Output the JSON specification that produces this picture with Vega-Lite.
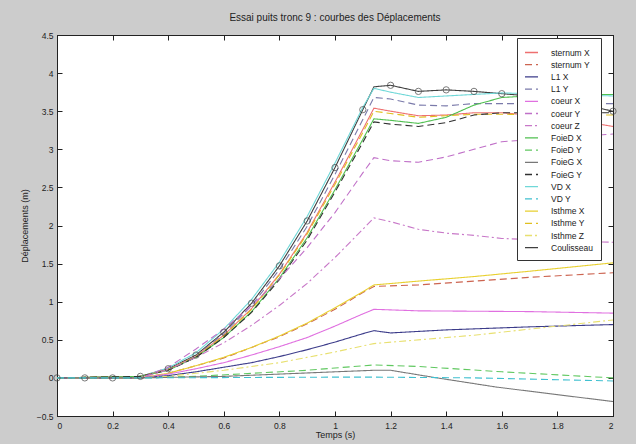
{
"$schema": "https://vega.github.io/schema/vega-lite/v6.json",
"width": 556, "height": 381,
"autosize": "none",
"padding": {"left": 57, "top": 35, "right": 23, "bottom": 28},
"background": "#cccccc",
"title": {"text": "Essai puits tronc 9 : courbes des Déplacements", "fontSize": 10, "fontWeight": "normal", "font": "Liberation Sans", "color": "#222", "offset": 8},
"config": {
  "view": {"fill": "white", "stroke": "black", "strokeWidth": 1},
  "axis": {"grid": false, "tickSize": -5, "tickColor": "#222", "domainColor": "#222", "labelFont": "Liberation Sans", "labelFontSize": 8.5, "labelColor": "#222", "titleFont": "Liberation Sans", "titleFontSize": 9, "titleFontWeight": "normal", "titleColor": "#222"},
  "legend": {"labelFont": "Liberation Sans", "labelFontSize": 8.5, "labelColor": "#222"}
},
"data": {"values": [
{"s":"Coulisseau","t":0,"v":0},{"s":"Coulisseau","t":0.1,"v":0},{"s":"Coulisseau","t":0.2,"v":0},{"s":"Coulisseau","t":0.3,"v":0.02},{"s":"Coulisseau","t":0.4,"v":0.12},{"s":"Coulisseau","t":0.5,"v":0.3},{"s":"Coulisseau","t":0.6,"v":0.6},{"s":"Coulisseau","t":0.7,"v":0.98},{"s":"Coulisseau","t":0.8,"v":1.47},{"s":"Coulisseau","t":0.9,"v":2.06},{"s":"Coulisseau","t":1.0,"v":2.76},{"s":"Coulisseau","t":1.1,"v":3.52},{"s":"Coulisseau","t":1.14,"v":3.82},{"s":"Coulisseau","t":1.2,"v":3.84},{"s":"Coulisseau","t":1.3,"v":3.76},{"s":"Coulisseau","t":1.4,"v":3.78},{"s":"Coulisseau","t":1.5,"v":3.76},{"s":"Coulisseau","t":1.6,"v":3.73},{"s":"Coulisseau","t":1.7,"v":3.7},{"s":"Coulisseau","t":1.8,"v":3.65},{"s":"Coulisseau","t":1.9,"v":3.58},{"s":"Coulisseau","t":2.0,"v":3.5},

{"s":"VD X","t":0,"v":0},{"s":"VD X","t":0.3,"v":0.02},{"s":"VD X","t":0.4,"v":0.13},{"s":"VD X","t":0.5,"v":0.33},{"s":"VD X","t":0.6,"v":0.64},{"s":"VD X","t":0.7,"v":1.03},{"s":"VD X","t":0.8,"v":1.52},{"s":"VD X","t":0.9,"v":2.12},{"s":"VD X","t":1.0,"v":2.82},{"s":"VD X","t":1.1,"v":3.55},{"s":"VD X","t":1.14,"v":3.8},{"s":"VD X","t":1.2,"v":3.75},{"s":"VD X","t":1.3,"v":3.68},{"s":"VD X","t":1.4,"v":3.7},{"s":"VD X","t":1.5,"v":3.72},{"s":"VD X","t":1.6,"v":3.74},{"s":"VD X","t":1.8,"v":3.72},{"s":"VD X","t":2.0,"v":3.7},

{"s":"L1 Y","t":0,"v":0},{"s":"L1 Y","t":0.3,"v":0.02},{"s":"L1 Y","t":0.4,"v":0.11},{"s":"L1 Y","t":0.5,"v":0.29},{"s":"L1 Y","t":0.6,"v":0.58},{"s":"L1 Y","t":0.7,"v":0.95},{"s":"L1 Y","t":0.8,"v":1.42},{"s":"L1 Y","t":0.9,"v":1.99},{"s":"L1 Y","t":1.0,"v":2.67},{"s":"L1 Y","t":1.1,"v":3.39},{"s":"L1 Y","t":1.14,"v":3.68},{"s":"L1 Y","t":1.2,"v":3.66},{"s":"L1 Y","t":1.3,"v":3.58},{"s":"L1 Y","t":1.4,"v":3.57},{"s":"L1 Y","t":1.5,"v":3.6},{"s":"L1 Y","t":1.6,"v":3.6},{"s":"L1 Y","t":1.8,"v":3.6},{"s":"L1 Y","t":2.0,"v":3.6},

{"s":"sternum X","t":0,"v":0},{"s":"sternum X","t":0.3,"v":0.02},{"s":"sternum X","t":0.4,"v":0.11},{"s":"sternum X","t":0.5,"v":0.28},{"s":"sternum X","t":0.6,"v":0.56},{"s":"sternum X","t":0.7,"v":0.91},{"s":"sternum X","t":0.8,"v":1.36},{"s":"sternum X","t":0.9,"v":1.91},{"s":"sternum X","t":1.0,"v":2.57},{"s":"sternum X","t":1.1,"v":3.26},{"s":"sternum X","t":1.14,"v":3.54},{"s":"sternum X","t":1.2,"v":3.5},{"s":"sternum X","t":1.3,"v":3.44},{"s":"sternum X","t":1.4,"v":3.45},{"s":"sternum X","t":1.5,"v":3.48},{"s":"sternum X","t":1.6,"v":3.48},{"s":"sternum X","t":1.8,"v":3.42},{"s":"sternum X","t":2.0,"v":3.3},

{"s":"Isthme Y","t":0,"v":0},{"s":"Isthme Y","t":0.3,"v":0.02},{"s":"Isthme Y","t":0.4,"v":0.11},{"s":"Isthme Y","t":0.5,"v":0.28},{"s":"Isthme Y","t":0.6,"v":0.55},{"s":"Isthme Y","t":0.7,"v":0.9},{"s":"Isthme Y","t":0.8,"v":1.35},{"s":"Isthme Y","t":0.9,"v":1.89},{"s":"Isthme Y","t":1.0,"v":2.54},{"s":"Isthme Y","t":1.1,"v":3.22},{"s":"Isthme Y","t":1.14,"v":3.5},{"s":"Isthme Y","t":1.2,"v":3.47},{"s":"Isthme Y","t":1.3,"v":3.42},{"s":"Isthme Y","t":1.4,"v":3.44},{"s":"Isthme Y","t":1.5,"v":3.46},{"s":"Isthme Y","t":1.6,"v":3.46},{"s":"Isthme Y","t":1.8,"v":3.45},{"s":"Isthme Y","t":2.0,"v":3.45},

{"s":"FoieD X","t":0,"v":0},{"s":"FoieD X","t":0.3,"v":0.02},{"s":"FoieD X","t":0.4,"v":0.1},{"s":"FoieD X","t":0.5,"v":0.27},{"s":"FoieD X","t":0.6,"v":0.53},{"s":"FoieD X","t":0.7,"v":0.87},{"s":"FoieD X","t":0.8,"v":1.31},{"s":"FoieD X","t":0.9,"v":1.84},{"s":"FoieD X","t":1.0,"v":2.47},{"s":"FoieD X","t":1.1,"v":3.13},{"s":"FoieD X","t":1.14,"v":3.4},{"s":"FoieD X","t":1.2,"v":3.38},{"s":"FoieD X","t":1.3,"v":3.34},{"s":"FoieD X","t":1.4,"v":3.42},{"s":"FoieD X","t":1.5,"v":3.58},{"s":"FoieD X","t":1.6,"v":3.68},{"s":"FoieD X","t":1.8,"v":3.72},{"s":"FoieD X","t":2.0,"v":3.72},

{"s":"FoieG Y","t":0,"v":0},{"s":"FoieG Y","t":0.3,"v":0.02},{"s":"FoieG Y","t":0.4,"v":0.1},{"s":"FoieG Y","t":0.5,"v":0.27},{"s":"FoieG Y","t":0.6,"v":0.53},{"s":"FoieG Y","t":0.7,"v":0.86},{"s":"FoieG Y","t":0.8,"v":1.29},{"s":"FoieG Y","t":0.9,"v":1.81},{"s":"FoieG Y","t":1.0,"v":2.44},{"s":"FoieG Y","t":1.1,"v":3.09},{"s":"FoieG Y","t":1.14,"v":3.36},{"s":"FoieG Y","t":1.2,"v":3.33},{"s":"FoieG Y","t":1.3,"v":3.3},{"s":"FoieG Y","t":1.4,"v":3.35},{"s":"FoieG Y","t":1.5,"v":3.45},{"s":"FoieG Y","t":1.6,"v":3.48},{"s":"FoieG Y","t":1.8,"v":3.48},{"s":"FoieG Y","t":2.0,"v":3.48},

{"s":"coeur Y","t":0,"v":0},{"s":"coeur Y","t":0.3,"v":0},{"s":"coeur Y","t":0.4,"v":0.14},{"s":"coeur Y","t":0.5,"v":0.38},{"s":"coeur Y","t":0.6,"v":0.64},{"s":"coeur Y","t":0.7,"v":0.95},{"s":"coeur Y","t":0.8,"v":1.3},{"s":"coeur Y","t":0.9,"v":1.71},{"s":"coeur Y","t":1.0,"v":2.17},{"s":"coeur Y","t":1.1,"v":2.69},{"s":"coeur Y","t":1.14,"v":2.89},{"s":"coeur Y","t":1.2,"v":2.85},{"s":"coeur Y","t":1.3,"v":2.83},{"s":"coeur Y","t":1.4,"v":2.9},{"s":"coeur Y","t":1.5,"v":3.0},{"s":"coeur Y","t":1.6,"v":3.1},{"s":"coeur Y","t":1.8,"v":3.15},{"s":"coeur Y","t":2.0,"v":3.2},

{"s":"coeur Z","t":0,"v":0},{"s":"coeur Z","t":0.3,"v":0},{"s":"coeur Z","t":0.4,"v":0.11},{"s":"coeur Z","t":0.5,"v":0.27},{"s":"coeur Z","t":0.6,"v":0.46},{"s":"coeur Z","t":0.7,"v":0.69},{"s":"coeur Z","t":0.8,"v":0.95},{"s":"coeur Z","t":0.9,"v":1.24},{"s":"coeur Z","t":1.0,"v":1.58},{"s":"coeur Z","t":1.1,"v":1.95},{"s":"coeur Z","t":1.14,"v":2.1},{"s":"coeur Z","t":1.2,"v":2.05},{"s":"coeur Z","t":1.3,"v":1.95},{"s":"coeur Z","t":1.4,"v":1.9},{"s":"coeur Z","t":1.5,"v":1.87},{"s":"coeur Z","t":1.6,"v":1.83},{"s":"coeur Z","t":1.8,"v":1.8},{"s":"coeur Z","t":2.0,"v":1.78},

{"s":"sternum Y","t":0,"v":0},{"s":"sternum Y","t":0.3,"v":0},{"s":"sternum Y","t":0.4,"v":0.06},{"s":"sternum Y","t":0.5,"v":0.16},{"s":"sternum Y","t":0.6,"v":0.26},{"s":"sternum Y","t":0.7,"v":0.4},{"s":"sternum Y","t":0.8,"v":0.54},{"s":"sternum Y","t":0.9,"v":0.71},{"s":"sternum Y","t":1.0,"v":0.9},{"s":"sternum Y","t":1.1,"v":1.12},{"s":"sternum Y","t":1.14,"v":1.2},{"s":"sternum Y","t":1.3,"v":1.22},{"s":"sternum Y","t":1.5,"v":1.27},{"s":"sternum Y","t":1.7,"v":1.32},{"s":"sternum Y","t":2.0,"v":1.38},

{"s":"Isthme X","t":0,"v":0},{"s":"Isthme X","t":0.3,"v":0},{"s":"Isthme X","t":0.4,"v":0.06},{"s":"Isthme X","t":0.5,"v":0.16},{"s":"Isthme X","t":0.6,"v":0.27},{"s":"Isthme X","t":0.7,"v":0.4},{"s":"Isthme X","t":0.8,"v":0.55},{"s":"Isthme X","t":0.9,"v":0.72},{"s":"Isthme X","t":1.0,"v":0.92},{"s":"Isthme X","t":1.1,"v":1.13},{"s":"Isthme X","t":1.14,"v":1.22},{"s":"Isthme X","t":1.3,"v":1.27},{"s":"Isthme X","t":1.5,"v":1.33},{"s":"Isthme X","t":1.7,"v":1.4},{"s":"Isthme X","t":2.0,"v":1.51},

{"s":"coeur X","t":0,"v":0},{"s":"coeur X","t":0.3,"v":0},{"s":"coeur X","t":0.4,"v":0.05},{"s":"coeur X","t":0.5,"v":0.12},{"s":"coeur X","t":0.6,"v":0.2},{"s":"coeur X","t":0.7,"v":0.3},{"s":"coeur X","t":0.8,"v":0.41},{"s":"coeur X","t":0.9,"v":0.53},{"s":"coeur X","t":1.0,"v":0.68},{"s":"coeur X","t":1.1,"v":0.84},{"s":"coeur X","t":1.14,"v":0.9},{"s":"coeur X","t":1.3,"v":0.88},{"s":"coeur X","t":1.7,"v":0.87},{"s":"coeur X","t":2.0,"v":0.85},

{"s":"L1 X","t":0,"v":0},{"s":"L1 X","t":0.3,"v":0},{"s":"L1 X","t":0.4,"v":0.03},{"s":"L1 X","t":0.5,"v":0.08},{"s":"L1 X","t":0.6,"v":0.14},{"s":"L1 X","t":0.7,"v":0.2},{"s":"L1 X","t":0.8,"v":0.28},{"s":"L1 X","t":0.9,"v":0.37},{"s":"L1 X","t":1.0,"v":0.47},{"s":"L1 X","t":1.1,"v":0.58},{"s":"L1 X","t":1.14,"v":0.62},{"s":"L1 X","t":1.2,"v":0.59},{"s":"L1 X","t":1.4,"v":0.63},{"s":"L1 X","t":1.7,"v":0.67},{"s":"L1 X","t":2.0,"v":0.7},

{"s":"Isthme Z","t":0,"v":0},{"s":"Isthme Z","t":0.3,"v":0},{"s":"Isthme Z","t":0.4,"v":0.02},{"s":"Isthme Z","t":0.5,"v":0.06},{"s":"Isthme Z","t":0.6,"v":0.1},{"s":"Isthme Z","t":0.7,"v":0.15},{"s":"Isthme Z","t":0.8,"v":0.2},{"s":"Isthme Z","t":0.9,"v":0.27},{"s":"Isthme Z","t":1.0,"v":0.34},{"s":"Isthme Z","t":1.1,"v":0.42},{"s":"Isthme Z","t":1.14,"v":0.45},{"s":"Isthme Z","t":1.5,"v":0.56},{"s":"Isthme Z","t":2.0,"v":0.76},

{"s":"FoieD Y","t":0,"v":0},{"s":"FoieD Y","t":0.3,"v":0},{"s":"FoieD Y","t":0.5,"v":0.02},{"s":"FoieD Y","t":0.7,"v":0.06},{"s":"FoieD Y","t":0.9,"v":0.1},{"s":"FoieD Y","t":1.0,"v":0.13},{"s":"FoieD Y","t":1.14,"v":0.17},{"s":"FoieD Y","t":1.3,"v":0.15},{"s":"FoieD Y","t":1.6,"v":0.08},{"s":"FoieD Y","t":2.0,"v":0.0},

{"s":"FoieG X","t":0,"v":0},{"s":"FoieG X","t":0.3,"v":0},{"s":"FoieG X","t":0.6,"v":0.02},{"s":"FoieG X","t":0.8,"v":0.05},{"s":"FoieG X","t":1.0,"v":0.08},{"s":"FoieG X","t":1.14,"v":0.1},{"s":"FoieG X","t":1.2,"v":0.1},{"s":"FoieG X","t":1.35,"v":0.01},{"s":"FoieG X","t":1.58,"v":-0.12},{"s":"FoieG X","t":1.8,"v":-0.22},{"s":"FoieG X","t":2.0,"v":-0.31},

{"s":"VD Y","t":0,"v":0},{"s":"VD Y","t":0.3,"v":0},{"s":"VD Y","t":1.0,"v":0.01},{"s":"VD Y","t":1.14,"v":0.01},{"s":"VD Y","t":1.5,"v":0.0},{"s":"VD Y","t":2.0,"v":-0.04}
]},
"layer": [
  {
    "mark": {"type": "line", "strokeWidth": 1.1},
    "encoding": {
      "x": {"field": "t", "type": "quantitative", "scale": {"domain": [0, 2], "nice": false}, "axis": {"title": "Temps (s)", "values": [0,0.2,0.4,0.6,0.8,1,1.2,1.4,1.6,1.8,2], "format": "~g", "labelPadding": 10, "titlePadding": 1}},
      "y": {"field": "v", "type": "quantitative", "scale": {"domain": [-0.5, 4.5], "nice": false}, "axis": {"title": "Déplacements (m)", "values": [-0.5,0,0.5,1,1.5,2,2.5,3,3.5,4,4.5], "format": "~g", "labelPadding": 9, "titlePadding": 7}},
      "color": {"field": "s", "type": "nominal", "scale": {
        "domain": ["sternum X","sternum Y","L1 X","L1 Y","coeur X","coeur Y","coeur Z","FoieD X","FoieD Y","FoieG X","FoieG Y","VD X","VD Y","Isthme X","Isthme Y","Isthme Z","Coulisseau"],
        "range": ["#ee7070","#cc6450","#3c3c8a","#7a7aaa","#e070e0","#c070c8","#c878c8","#50c050","#60c860","#787878","#303030","#70d8d8","#40c0d0","#e8d030","#e0c020","#e8e070","#404040"]},
        "legend": {"title": null, "orient": "none", "legendX": 460, "legendY": 3, "fillColor": "white", "strokeColor": "#333", "padding": 7, "symbolType": "stroke", "symbolSize": 169, "symbolStrokeWidth": 1.3, "rowPadding": 0.2, "labelOffset": 12}},
      "strokeDash": {"field": "s", "type": "nominal", "scale": {
        "domain": ["sternum X","sternum Y","L1 X","L1 Y","coeur X","coeur Y","coeur Z","FoieD X","FoieD Y","FoieG X","FoieG Y","VD X","VD Y","Isthme X","Isthme Y","Isthme Z","Coulisseau"],
        "range": [[1,0],[7,4],[1,0],[7,4],[1,0],[7,4],[7,3,2,3],[1,0],[7,4],[1,0],[7,4],[1,0],[7,4],[1,0],[7,4],[7,3,2,3],[1,0]]},
        "legend": {"title": null, "orient": "none", "legendX": 460, "legendY": 3, "fillColor": "white", "strokeColor": "#333", "padding": 7, "symbolType": "stroke", "symbolSize": 169, "symbolStrokeWidth": 1.3, "rowPadding": 0.2, "labelOffset": 12}}
    }
  },
  {
    "transform": [{"filter": "datum.s == 'Coulisseau' && datum.t != 1.14"}],
    "mark": {"type": "point", "shape": "circle", "filled": false, "size": 40, "stroke": "#444", "strokeWidth": 1},
    "encoding": {
      "x": {"field": "t", "type": "quantitative", "axis": null},
      "y": {"field": "v", "type": "quantitative", "axis": null}
    }
  },
  {
    "transform": [{"filter": "datum.s == 'Coulisseau'"}],
    "mark": {"type": "point", "opacity": 0},
    "encoding": {
      "x": {"field": "t", "type": "quantitative", "axis": {"orient": "top", "labels": false, "title": null, "values": [0,0.2,0.4,0.6,0.8,1,1.2,1.4,1.6,1.8,2]}},
      "y": {"field": "v", "type": "quantitative", "axis": {"orient": "right", "labels": false, "title": null, "values": [-0.5,0,0.5,1,1.5,2,2.5,3,3.5,4,4.5]}}
    }
  }
],
"resolve": {"axis": {"x": "independent", "y": "independent"}}
}
